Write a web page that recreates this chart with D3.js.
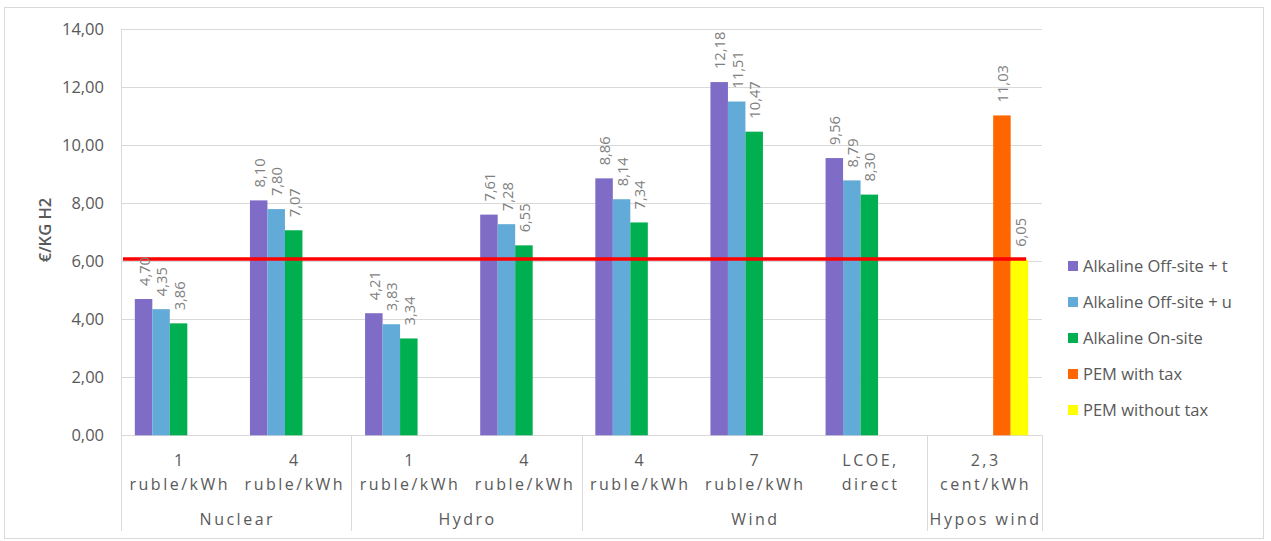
<!DOCTYPE html>
<html><head><meta charset="utf-8">
<script src="https://cdn.jsdelivr.net/npm/d3@7"></script>
<style>
html,body{margin:0;padding:0;background:#fff;}
svg{display:block;font-family:"Open Sans",sans-serif;}
</style></head>
<body><svg id="c" width="1271" height="541"></svg>
<script>
const categories = ["n1","n4","h1","h4","w4","w7","wl","hy"];
const catLine1 = ["1","4","1","4","4","7","LCOE,","2,3"];
const catLine2 = ["ruble/kWh","ruble/kWh","ruble/kWh","ruble/kWh","ruble/kWh","ruble/kWh","direct","cent/kWh"];
const groups = ["Nuclear","Hydro","Wind","Hypos wind"];
const groupSpans = [2,2,3,1];
const seriesNames = ["Alkaline Off-site + t","Alkaline Off-site + u","Alkaline On-site","PEM with tax","PEM without tax"];
const seriesColors = ["#7f6cc6","#62aad7","#00b050","#ff6600","#ffff00"];
const offsiteT = [4.70,8.10,4.21,7.61,8.86,12.18,9.56,null];
const offsiteU = [4.35,7.80,3.83,7.28,8.14,11.51,8.79,null];
const onsite   = [3.86,7.07,3.34,6.55,7.34,10.47,8.30,null];
const pemTax   = [null,null,null,null,null,null,null,11.03];
const pemNoTax = [null,null,null,null,null,null,null,6.05];
const yTicks = [0,2,4,6,8,10,12,14];
const thresholdValue = 6.08;

const seriesValues = [offsiteT, offsiteU, onsite, pemTax, pemNoTax];
const svg = d3.select("#c");
const L = 121, R = 1042, T = 29.3, B = 435.3, axisBottom = 531;
const fmt = v => v.toFixed(2).replace(".", ",");

// frame
svg.append("rect").attr("x",4.5).attr("y",7.5).attr("width",1259).attr("height",531)
  .attr("fill","none").attr("stroke","#d9d9d9").attr("stroke-width",1);

const y = d3.scaleLinear().domain([0,14]).range([B,T]);
const x0 = d3.scaleBand().domain(categories).range([L,R]).paddingInner(0).paddingOuter(0);
const x1 = d3.scaleBand().domain(d3.range(5)).range([0,x0.bandwidth()]).paddingInner(0).paddingOuter(0.79);

// gridlines
svg.append("g").selectAll("line").data(yTicks).join("line")
  .attr("x1",L).attr("x2",R).attr("y1",d=>Math.round(y(d))+0.5).attr("y2",d=>Math.round(y(d))+0.5)
  .attr("stroke","#d9d9d9").attr("stroke-width",1);

// y tick labels
svg.append("g").selectAll("text").data(yTicks).join("text")
  .attr("x",104).attr("y",d=>y(d)).attr("dy","0.35em").attr("text-anchor","end")
  .attr("font-size",16.5).attr("fill","#595959").text(d=>fmt(d));

// y axis title
svg.append("text").attr("transform",`translate(45,230) rotate(-90)`).attr("text-anchor","middle")
  .attr("dy","0.35em").attr("font-size",16.5).attr("font-weight",600).attr("fill","#595959").text("€/KG H2");

// vertical axis lines
let cum = 0; const seps = [0];
groupSpans.forEach(s=>{cum+=s; seps.push(cum);});
svg.append("line").attr("x1",L+0.5).attr("x2",L+0.5).attr("y1",T).attr("y2",axisBottom).attr("stroke","#d9d9d9");
svg.append("g").selectAll("line").data(seps.slice(1)).join("line")
  .attr("x1",d=> d>=categories.length ? R+0.5 : Math.round(x0(categories[d]))+0.5)
  .attr("x2",d=> d>=categories.length ? R+0.5 : Math.round(x0(categories[d]))+0.5)
  .attr("y1",B).attr("y2",axisBottom).attr("stroke","#d9d9d9");

// bars
const bars = [];
seriesValues.forEach((arr,si)=>arr.forEach((v,ci)=>{ if(v!=null) bars.push({si,ci,v}); }));
svg.append("g").selectAll("rect").data(bars).join("rect")
  .attr("x",d=>x0(categories[d.ci])+x1(d.si)).attr("width",x1.bandwidth())
  .attr("y",d=>y(d.v)).attr("height",d=>B-y(d.v)).attr("fill",d=>seriesColors[d.si]);

// red threshold line
svg.append("line").attr("x1",L+2).attr("x2",x0("hy")+x1(4)+x1.bandwidth()-2)
  .attr("y1",y(thresholdValue)).attr("y2",y(thresholdValue))
  .attr("stroke","#ff0000").attr("stroke-width",3.5);

// value labels
svg.append("g").selectAll("text").data(bars).join("text")
  .attr("transform",d=>`translate(${x0(categories[d.ci])+x1(d.si)+x1.bandwidth()/2+1},${y(d.v)-13}) rotate(-90)`)
  .attr("dy","0.35em").attr("text-anchor","start")
  .attr("font-size",14.7).attr("fill","#7f7f7f").text(d=>fmt(d.v));

// category labels
const cl = svg.append("g").attr("font-size",16).attr("fill","#595959").attr("text-anchor","middle").attr("letter-spacing","2.5px");
categories.forEach((c,i)=>{
  const cx = x0(c)+x0.bandwidth()/2;
  cl.append("text").attr("x",cx+1.2).attr("y",466).text(catLine1[i]);
  cl.append("text").attr("x",cx+1.2).attr("y",490).text(catLine2[i]);
});
groups.forEach((g,i)=>{
  const a = x0(categories[seps[i]]);
  const b = seps[i+1]>=categories.length ? R : x0(categories[seps[i+1]]);
  cl.append("text").attr("x",(a+b)/2+1.2).attr("y",525).text(g);
});

// legend
const lg = svg.append("g");
seriesNames.forEach((n,i)=>{
  const yy = 266 + i*36;
  lg.append("rect").attr("x",1068).attr("y",yy-5).attr("width",10).attr("height",10).attr("fill",seriesColors[i]);
  lg.append("text").attr("x",1083).attr("y",yy).attr("dy","0.35em").attr("font-size",16.5)
    .attr("fill","#595959").text(n);
});
</script></body></html>
